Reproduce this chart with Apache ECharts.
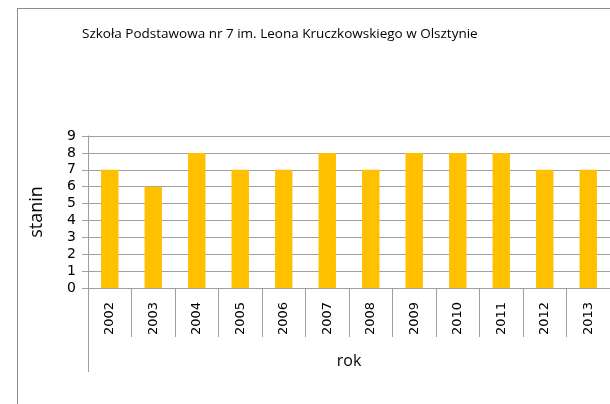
<!DOCTYPE html>
<html>
<head>
<meta charset="utf-8">
<script src="https://cdn.jsdelivr.net/npm/echarts@6/dist/echarts.min.js"></script>
<style>
  body { margin: 0; background: #fff; }
  #frame {
    position: absolute; left: 17px; top: 8px; width: 700px; height: 500px;
    border-left: 1px solid #8c8c8c; border-top: 1px solid #8c8c8c;
  }
  #chart { position: absolute; left: 0; top: 0; width: 610px; height: 404px; }
</style>
</head>
<body>
<div id="frame"></div>
<div id="chart"></div>
<script>
// dane
var years = ["2002", "2003", "2004", "2005", "2006", "2007", "2008", "2009", "2010", "2011", "2012", "2013"];
var stanin = [7, 6, 8, 7, 7, 8, 7, 8, 8, 8, 7, 7];
var groupLabel = ["rok"];
var titleText = "Szkoła Podstawowa nr 7 im. Leona Kruczkowskiego w Olsztynie";

var gray = "#a0a0a0";
var font = "DejaVu Sans";

var chart = echarts.init(document.getElementById("chart"));
var option = {
  backgroundColor: "transparent",
  animation: false,
  title: {
    text: titleText,
    left: 77,
    top: 22,
    textStyle: { fontFamily: "Open Sans", fontSize: 13.5, fontWeight: "normal", color: "#000" }
  },
  grid: { left: 88, right: -2, top: 136, bottom: 116, containLabel: false },
  xAxis: [
    {
      type: "category",
      data: years,
      position: "bottom",
      axisLine: { lineStyle: { color: gray, width: 1 } },
      axisTick: { show: true, length: 49, lineStyle: { color: gray } },
      axisLabel: { rotate: 90, margin: 14, fontFamily: font, fontSize: 13, color: "#000" }
    },
    {
      type: "category",
      data: groupLabel,
      position: "bottom",
      axisLine: { show: false },
      axisTick: { show: true, length: 84, lineStyle: { color: gray } },
      axisLabel: { margin: 65, fontFamily: "Open Sans", fontSize: 16, color: "#000" }
    }
  ],
  yAxis: {
    type: "value",
    min: 0,
    max: 9,
    interval: 1,
    name: "stanin",
    nameLocation: "middle",
    nameGap: 42,
    nameTextStyle: { fontFamily: "Open Sans", fontSize: 18, color: "#000" },
    axisLine: { show: true, lineStyle: { color: gray, width: 1 } },
    axisTick: { show: true, length: 6, lineStyle: { color: gray } },
    axisLabel: { margin: 12, fontFamily: font, fontSize: 14, color: "#000" },
    splitLine: { lineStyle: { color: gray, width: 1 } }
  },
  series: [
    {
      type: "bar",
      data: stanin,
      xAxisIndex: 0,
      barWidth: "40%",
      itemStyle: { color: "#FFC000" }
    }
  ]
};
chart.setOption(option);
</script>
</body>
</html>
